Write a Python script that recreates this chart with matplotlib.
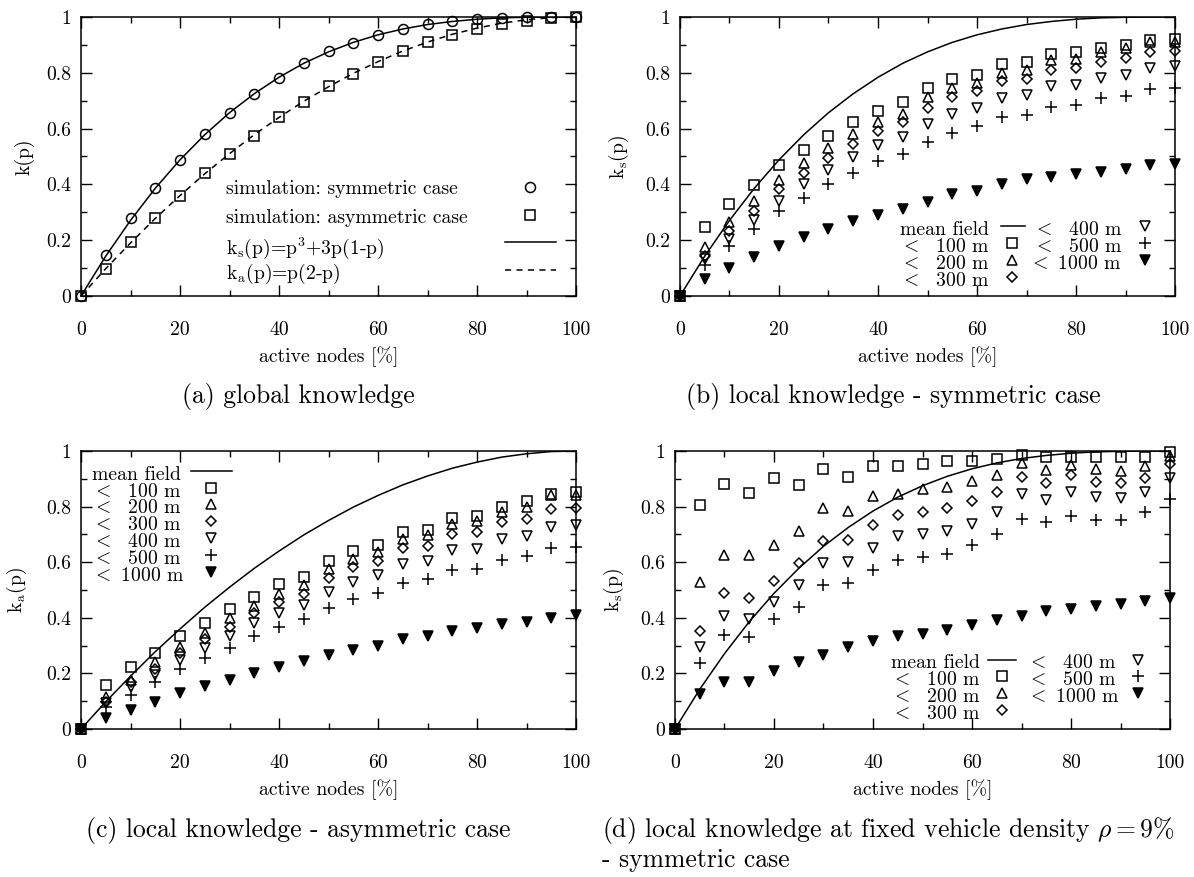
import matplotlib
matplotlib.use("Agg")
import matplotlib.pyplot as plt
from matplotlib.transforms import offset_copy

plt.rcParams['font.family'] = 'cmr10'
plt.rcParams['mathtext.fontset'] = 'cm'
plt.rcParams['axes.formatter.use_mathtext'] = True

# ---------------- data ----------------
P = [0, 5, 10, 15, 20, 25, 30, 35, 40, 45, 50, 55, 60, 65, 70, 75, 80, 85, 90, 95, 100]

# mean-field curves
MF_SYM = [0, 0.143, 0.271, 0.386, 0.488, 0.578, 0.657, 0.725, 0.784, 0.834, 0.875,
          0.909, 0.936, 0.957, 0.973, 0.984, 0.992, 0.997, 0.999, 1.0, 1.0]
MF_ASYM = [0, 0.098, 0.19, 0.278, 0.36, 0.438, 0.51, 0.578, 0.64, 0.698, 0.75,
           0.798, 0.84, 0.878, 0.91, 0.938, 0.96, 0.978, 0.99, 0.998, 1.0]

# (a) global knowledge simulations
A_SYM = [0, 0.146, 0.278, 0.386, 0.486, 0.581, 0.655, 0.723, 0.783, 0.835, 0.877,
         0.907, 0.937, 0.957, 0.975, 0.984, 0.994, 0.998, 1.0, 1.0, 1.0]
A_ASYM = [0, 0.098, 0.192, 0.278, 0.358, 0.44, 0.508, 0.575, 0.641, 0.695, 0.751,
          0.796, 0.837, 0.877, 0.909, 0.934, 0.957, 0.975, 0.984, 0.998, 1.0]

# (b) local knowledge - symmetric case
B_100 = [0, 0.247, 0.33, 0.397, 0.468, 0.525, 0.575, 0.622, 0.664, 0.694, 0.745,
         0.778, 0.792, 0.83, 0.838, 0.867, 0.873, 0.888, 0.90, 0.917, 0.922]
B_200 = [0, 0.175, 0.266, 0.34, 0.417, 0.477, 0.53, 0.582, 0.624, 0.654, 0.712,
         0.744, 0.763, 0.80, 0.81, 0.846, 0.849, 0.873, 0.888, 0.91, 0.912]
B_300 = [0, 0.145, 0.234, 0.306, 0.382, 0.442, 0.496, 0.546, 0.592, 0.622, 0.674,
         0.712, 0.733, 0.77, 0.777, 0.81, 0.816, 0.84, 0.852, 0.874, 0.877]
B_400 = [0, 0.133, 0.206, 0.274, 0.342, 0.40, 0.45, 0.498, 0.543, 0.57, 0.618,
         0.652, 0.675, 0.708, 0.72, 0.753, 0.756, 0.78, 0.792, 0.816, 0.823]
B_500 = [0, 0.11, 0.18, 0.24, 0.303, 0.35, 0.402, 0.44, 0.483, 0.508, 0.553,
         0.585, 0.608, 0.642, 0.65, 0.678, 0.684, 0.708, 0.716, 0.742, 0.747]
B_1000 = [0, 0.06, 0.102, 0.138, 0.18, 0.21, 0.24, 0.268, 0.292, 0.312, 0.337,
          0.366, 0.377, 0.40, 0.42, 0.428, 0.438, 0.446, 0.456, 0.468, 0.474]

# (c) local knowledge - asymmetric case
C_100 = [0, 0.158, 0.222, 0.275, 0.334, 0.382, 0.43, 0.475, 0.52, 0.547, 0.604,
         0.64, 0.661, 0.707, 0.717, 0.76, 0.765, 0.799, 0.819, 0.847, 0.853]
C_200 = [0, 0.116, 0.178, 0.24, 0.296, 0.347, 0.40, 0.443, 0.487, 0.517, 0.574,
         0.613, 0.637, 0.685, 0.697, 0.739, 0.749, 0.78, 0.80, 0.84, 0.84]
C_300 = [0, 0.098, 0.168, 0.216, 0.274, 0.322, 0.368, 0.416, 0.457, 0.487, 0.544,
         0.583, 0.604, 0.65, 0.659, 0.70, 0.709, 0.745, 0.757, 0.793, 0.796]
C_400 = [0, 0.092, 0.152, 0.194, 0.248, 0.292, 0.334, 0.38, 0.418, 0.445, 0.493,
         0.53, 0.553, 0.595, 0.605, 0.643, 0.649, 0.683, 0.693, 0.727, 0.735]
C_500 = [0, 0.08, 0.122, 0.168, 0.216, 0.254, 0.293, 0.334, 0.368, 0.394, 0.434,
         0.466, 0.49, 0.526, 0.538, 0.571, 0.577, 0.607, 0.622, 0.652, 0.655]
C_1000 = [0, 0.038, 0.07, 0.098, 0.13, 0.155, 0.178, 0.20, 0.224, 0.246, 0.266,
          0.284, 0.30, 0.322, 0.334, 0.352, 0.362, 0.376, 0.386, 0.401, 0.41]

# (d) local knowledge at fixed vehicle density 9% - symmetric case
D_100 = [0, 0.806, 0.882, 0.85, 0.902, 0.878, 0.934, 0.905, 0.945, 0.947, 0.955,
         0.963, 0.964, 0.97, 0.986, 0.978, 0.98, 0.977, 0.977, 0.98, 0.997]
D_200 = [0, 0.53, 0.626, 0.625, 0.661, 0.713, 0.794, 0.783, 0.837, 0.846, 0.864,
         0.871, 0.891, 0.913, 0.957, 0.931, 0.948, 0.934, 0.928, 0.947, 0.981]
D_300 = [0, 0.353, 0.488, 0.472, 0.531, 0.597, 0.678, 0.68, 0.733, 0.768, 0.781,
         0.795, 0.82, 0.853, 0.908, 0.884, 0.915, 0.89, 0.884, 0.904, 0.954]
D_400 = [0, 0.296, 0.405, 0.394, 0.458, 0.518, 0.598, 0.601, 0.651, 0.693, 0.70,
         0.711, 0.739, 0.781, 0.846, 0.824, 0.854, 0.836, 0.83, 0.851, 0.902]
D_500 = [0, 0.236, 0.337, 0.33, 0.397, 0.44, 0.517, 0.524, 0.573, 0.609, 0.618,
         0.631, 0.661, 0.703, 0.757, 0.745, 0.767, 0.752, 0.752, 0.782, 0.827]
D_1000 = [0, 0.126, 0.17, 0.17, 0.21, 0.242, 0.265, 0.296, 0.315, 0.336, 0.342,
          0.356, 0.374, 0.392, 0.408, 0.423, 0.431, 0.444, 0.451, 0.46, 0.473]

X_TICKS = [0, 20, 40, 60, 80, 100]
X_TICKLABELS = ['0', '20', '40', '60', '80', '100']
Y_TICKS = [0, 0.2, 0.4, 0.6, 0.8, 1.0]
Y_TICKLABELS = ['0', '0.2', '0.4', '0.6', '0.8', '1']

RANGE_LABELS = [r'$<$  100 m', r'$<$  200 m', r'$<$  300 m',
                r'$<$  400 m', r'$<$  500 m', r'$<$ 1000 m']

CAPTIONS = ['(a) global knowledge',
            '(b) local knowledge - symmetric case',
            '(c) local knowledge - asymmetric case',
            r'(d) local knowledge at fixed vehicle density $\rho = 9\%$',
            '- symmetric case']

# ---------------- style ----------------
FS = 14.2
CAP_FS = 18.5
MEW = 1.1
STY = [dict(marker='s', ms=7.2, mfc='none', mec='black', mew=MEW),
       dict(marker='^', ms=7.2, mfc='none', mec='black', mew=MEW),
       dict(marker='D', ms=5.0, mfc='none', mec='black', mew=MEW),
       dict(marker='v', ms=7.2, mfc='none', mec='black', mew=MEW),
       dict(marker='+', ms=8.5, mfc='none', mec='black', mew=MEW),
       dict(marker='v', ms=7.2, mfc='black', mec='black', mew=MEW)]

W, H = 1194, 877
fig = plt.figure(figsize=(W / 100, H / 100), dpi=100)


def make_axes(l, r, t, b):
    return fig.add_axes([l / W, (H - b) / H, (r - l) / W, (b - t) / H])


def setup(ax, ylabel, ylab_x):
    ax.set_xlim(0, 100)
    ax.set_ylim(0, 1)
    ax.set_xticks(X_TICKS)
    ax.set_xticklabels(X_TICKLABELS)
    ax.set_xticks([10, 30, 50, 70, 90], minor=True)
    ax.set_yticks(Y_TICKS)
    ax.set_yticklabels(Y_TICKLABELS)
    ax.set_yticks([0.1, 0.3, 0.5, 0.7, 0.9], minor=True)
    ax.tick_params(which='both', direction='in', top=True, right=True,
                   width=1.0, labelsize=FS)
    ax.tick_params(which='major', length=8)
    ax.tick_params(which='minor', length=4)
    ax.tick_params(axis='x', which='both', pad=18)
    ax.tick_params(axis='y', which='both', pad=7)
    for s in ax.spines.values():
        s.set_linewidth(1.1)
    ax.set_xlabel('active nodes [%]', fontsize=FS)
    h = ax.get_position().height * H
    ax.xaxis.set_label_coords(0.5, -61 / h)
    ax.xaxis.label.set_va('center')
    ax.set_ylabel(ylabel, fontsize=FS)
    ax.yaxis.set_label_coords(ylab_x, 0.5)
    ax.yaxis.label.set_va('center')


def key_marker(ax, x, y, sty):
    ax.plot([x], [y], linestyle='none', transform=ax.transAxes,
            clip_on=False, **sty)


def key_line(ax, x0, x1, y, **kw):
    ax.plot([x0, x1], [y, y], color='black', lw=1.1, transform=ax.transAxes,
            clip_on=False, **kw)


def key_text(ax, x, y, s, ha):
    tr = offset_copy(ax.transAxes, fig=fig, x=0, y=-4, units='dots')
    ax.text(x, y, s, transform=tr, ha=ha, va='center', fontsize=FS)


def plot_series(ax, series):
    for ys, sty in zip(series, STY):
        ax.plot(P, ys, linestyle='none', clip_on=False, zorder=3, **sty)


# ---------------- (a) ----------------
axa = make_axes(81, 576, 17, 296)
setup(axa, 'k(p)', -0.114)
axa.plot(P, MF_SYM, color='black', lw=1.1, zorder=2)
axa.plot(P, MF_ASYM, color='black', lw=1.1, ls=(0, (4, 3.5)), zorder=2)
axa.plot(P, A_SYM, linestyle='none', marker='o', ms=7.2, mfc='none', mec='black',
         mew=MEW, clip_on=False, zorder=3)
axa.plot(P, A_ASYM, linestyle='none', marker='s', ms=7.2, mfc='none', mec='black',
         mew=MEW, clip_on=False, zorder=3)
rows_a = [0.392, 0.29, 0.192, 0.092]
key_text(axa, 0.293, rows_a[0] + 0.005, 'simulation: symmetric case', 'left')
key_text(axa, 0.293, rows_a[1] + 0.005, 'simulation: asymmetric case', 'left')
key_text(axa, 0.293, rows_a[2] - 0.005, r'k$_\mathrm{s}$(p)=p$^3$+3p(1-p)', 'left')
key_text(axa, 0.293, rows_a[3], r'k$_\mathrm{a}$(p)=p(2-p)', 'left')
key_marker(axa, 0.907, rows_a[0], dict(marker='o', ms=7.2, mfc='none', mec='black', mew=MEW))
key_marker(axa, 0.907, rows_a[1], dict(marker='s', ms=7.2, mfc='none', mec='black', mew=MEW))
key_line(axa, 0.856, 0.960, rows_a[2])
key_line(axa, 0.856, 0.960, rows_a[3], ls=(0, (4, 3.5)))

# ---------------- (b) ----------------
axb = make_axes(680, 1175, 17, 296)
setup(axb, r'k$_\mathrm{s}$(p)', -0.123)
axb.plot(P, MF_SYM, color='black', lw=1.1, zorder=2)
plot_series(axb, [B_100, B_200, B_300, B_400, B_500, B_1000])
rows_b = [0.250, 0.189, 0.128, 0.067]
key_text(axb, 0.6245, rows_b[0], 'mean field', 'right')
key_line(axb, 0.6475, 0.696, rows_b[0])
for i in range(3):
    key_text(axb, 0.6245, rows_b[i + 1], RANGE_LABELS[i], 'right')
    key_marker(axb, 0.670, rows_b[i + 1], STY[i])
for i in range(3):
    key_text(axb, 0.893, rows_b[i], RANGE_LABELS[i + 3], 'right')
    key_marker(axb, 0.939, rows_b[i], STY[i + 3])

# ---------------- (c) ----------------
axc = make_axes(81, 576, 451, 729)
setup(axc, r'k$_\mathrm{a}$(p)', -0.129)
axc.plot(P, MF_ASYM, color='black', lw=1.1, zorder=2)
plot_series(axc, [C_100, C_200, C_300, C_400, C_500, C_1000])
rows_c = [0.928, 0.868, 0.808, 0.748, 0.688, 0.627, 0.566]
key_text(axc, 0.022, rows_c[0], 'mean field', 'left')
key_line(axc, 0.223, 0.305, rows_c[0])
for i in range(6):
    key_text(axc, 0.022, rows_c[i + 1], RANGE_LABELS[i], 'left')
    key_marker(axc, 0.263, rows_c[i + 1], STY[i])

# ---------------- (d) ----------------
axd = make_axes(675, 1170, 451, 729)
setup(axd, r'k$_\mathrm{s}$(p)', -0.123)
axd.plot(P, MF_SYM, color='black', lw=1.1, zorder=2)
plot_series(axd, [D_100, D_200, D_300, D_400, D_500, D_1000])
rows_d = [0.250, 0.189, 0.128, 0.067]
key_text(axd, 0.436, rows_d[0], 'mean field', 'left')
key_line(axd, 0.633, 0.688, rows_d[0])
for i in range(3):
    key_text(axd, 0.436, rows_d[i + 1], RANGE_LABELS[i], 'left')
    key_marker(axd, 0.660, rows_d[i + 1], STY[i])
for i in range(3):
    key_text(axd, 0.712, rows_d[i], RANGE_LABELS[i + 3], 'left')
    key_marker(axd, 0.935, rows_d[i], STY[i + 3])

# ---------------- captions ----------------
fig.text(298 / W, 1 - 397 / H, CAPTIONS[0], ha='center', va='center', fontsize=CAP_FS)
fig.text(893 / W, 1 - 397 / H, CAPTIONS[1], ha='center', va='center', fontsize=CAP_FS)
fig.text(298 / W, 1 - 830 / H, CAPTIONS[2], ha='center', va='center', fontsize=CAP_FS)
fig.text(602 / W, 1 - 830 / H, CAPTIONS[3], ha='left', va='center', fontsize=CAP_FS)
fig.text(602 / W, 1 - 860 / H, CAPTIONS[4], ha='left', va='center', fontsize=CAP_FS)

fig.savefig('out.png', dpi=100)
